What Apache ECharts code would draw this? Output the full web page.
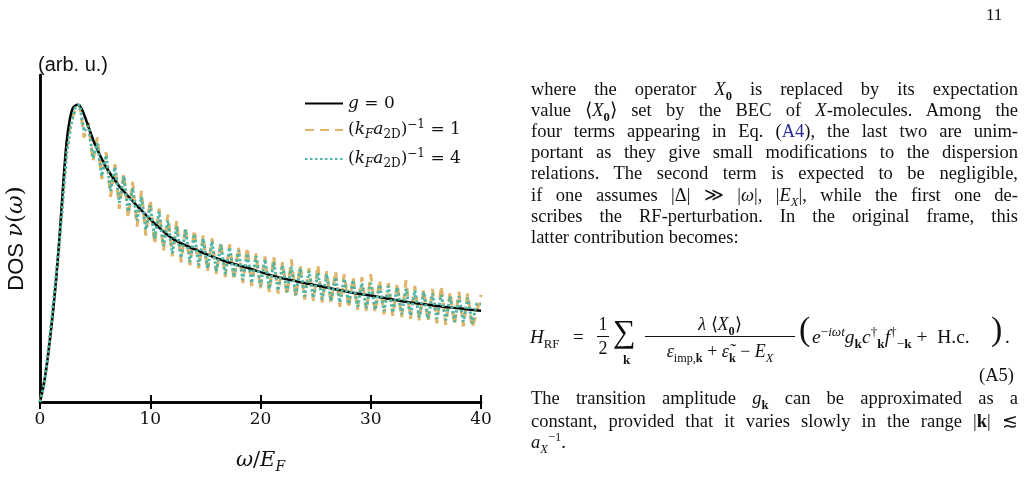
<!DOCTYPE html>
<html>
<head>
<meta charset="utf-8">
<script src="https://cdn.jsdelivr.net/npm/echarts@6/dist/echarts.min.js"></script>
<style>
  body { margin: 0; background: #fff; }
  #main { position: absolute; left: 0; top: 0; width: 1027px; height: 497px; }
  #paper { position: absolute; left: 0; top: 0; width: 1027px; height: 497px;
           font-family: 'Liberation Serif', serif; font-size: 18.5px; color: #111; pointer-events: none; }
  .ln { position: absolute; left: 531px; width: 487px; line-height: 20px;
        text-align: justify; text-align-last: justify; }
  .ln.last { text-align-last: left; }
  .ab { position: absolute; line-height: 22px; white-space: nowrap; }
  sub, sup { font-size: 68%; line-height: 0; }
  .cite { color: #2a2a9a; }
</style>
</head>
<body>
<div id="main"></div>
<div id="paper">
  <div class="ab" style="left:986px;top:4px;font-size:17px">11</div>

  <div class="ln" style="top:79px">where the operator <i>X</i><sub><b>0</b></sub> is replaced by its expectation</div>
  <div class="ln" style="top:100px">value ⟨<i>X</i><sub><b>0</b></sub>⟩ set by the BEC of <i>X</i>-molecules. Among the</div>
  <div class="ln" style="top:121px">four terms appearing in Eq. (<span class="cite">A4</span>), the last two are unim-</div>
  <div class="ln" style="top:142px">portant as they give small modifications to the dispersion</div>
  <div class="ln" style="top:163px">relations. The second term is expected to be negligible,</div>
  <div class="ln" style="top:185px">if one assumes |Δ| ≫ |<i>ω</i>|, |<i>E</i><sub><i>X</i></sub>|, while the first one de-</div>
  <div class="ln" style="top:206px">scribes the RF-perturbation. In the original frame, this</div>
  <div class="ln last" style="top:227px">latter contribution becomes:</div>

  <div class="ab" style="left:530px;top:326px;font-size:19px"><i>H</i><sub>RF</sub></div>
  <div class="ab" style="left:573px;top:326px;font-size:19px">=</div>
  <div class="ab" style="left:597px;top:313px;font-size:18px;text-align:center;width:12px">1</div>
  <div class="ab" style="left:597px;top:336px;width:12px;height:1px;background:#111"></div>
  <div class="ab" style="left:597px;top:337px;font-size:18px;text-align:center;width:12px">2</div>
  <div class="ab" style="left:613px;top:320px;font-size:32px">∑</div>
  <div class="ab" style="left:623px;top:349px;font-size:13px"><b>k</b></div>
  <div class="ab" style="left:645px;top:313px;width:150px;text-align:center;font-size:18px"><i>λ</i> ⟨<i>X</i><sub><b>0</b></sub>⟩</div>
  <div class="ab" style="left:645px;top:336px;width:150px;height:1px;background:#111"></div>
  <div class="ab" style="left:645px;top:340px;width:150px;text-align:center;font-size:18px"><i>ε</i><sub>imp,<b>k</b></sub> + <i>ε̃</i><sub><b>k</b></sub> − <i>E</i><sub><i>X</i></sub></div>
  <div class="ab" style="left:799px;top:318px;font-size:34px;font-weight:lighter">(</div>
  <div class="ab" style="left:812px;top:326px;font-size:19.5px"><i>e</i><sup>−<i>iωt</i></sup><i>g</i><sub><b>k</b></sub><i>c</i><sup>†</sup><sub><b>k</b></sub><i>f</i><sup>†</sup><sub>−<b>k</b></sub> + &nbsp;H.c.</div>
  <div class="ab" style="left:991px;top:318px;font-size:34px;font-weight:lighter">)</div>
  <div class="ab" style="left:1005px;top:326px;font-size:19px">.</div>
  <div class="ab" style="left:979px;top:364px;font-size:18.5px">(A5)</div>

  <div class="ln" style="top:388px">The transition amplitude <i>g</i><sub><b>k</b></sub> can be approximated as a</div>
  <div class="ln" style="top:411px">constant, provided that it varies slowly in the range |<b>k</b>| ≲</div>
  <div class="ln last" style="top:432px"><i>a</i><sub><i>X</i></sub><sup>−1</sup>.</div>
</div>
<script>
  // omega / E_F grid and DOS curves (arb. u.)
  var omegaClean = [0, 0.3, 0.6, 0.9, 1.2, 1.5, 1.8, 2.1, 2.4, 2.7, 3.0, 3.4, 3.8, 4.5, 5, 6, 7, 8, 9, 10,
    11, 12, 13, 14, 15, 16, 17, 18, 19, 20, 22, 24, 26, 28, 30, 32, 34, 36, 38, 40];
  var dosClean = [0, 0.05, 0.12, 0.21, 0.31, 0.43, 0.57, 0.73, 0.87, 0.95, 0.99, 1.0, 0.985, 0.915, 0.865, 0.79, 0.735, 0.692, 0.652, 0.615,
    0.58, 0.55, 0.53, 0.514, 0.498, 0.484, 0.471, 0.46, 0.449, 0.437, 0.416, 0.40, 0.385, 0.37, 0.358, 0.345, 0.333, 0.323, 0.315, 0.307];

  var omega = [0, 0.4, 0.8, 1.2, 1.6, 2.0, 2.4, 2.8, 3.2, 3.6,
    4.0, 4.4, 4.8, 5.2, 5.6, 6.0, 6.4, 6.8, 7.2, 7.6,
    8.0, 8.4, 8.8, 9.2, 9.6, 10.0, 10.4, 10.8, 11.2, 11.6,
    12.0, 12.4, 12.8, 13.2, 13.6, 14.0, 14.4, 14.8, 15.2, 15.6,
    16.0, 16.4, 16.8, 17.2, 17.6, 18.0, 18.4, 18.8, 19.2, 19.6,
    20.0, 20.4, 20.8, 21.2, 21.6, 22.0, 22.4, 22.8, 23.2, 23.6,
    24.0, 24.4, 24.8, 25.2, 25.6, 26.0, 26.4, 26.8, 27.2, 27.6,
    28.0, 28.4, 28.8, 29.2, 29.6, 30.0, 30.4, 30.8, 31.2, 31.6,
    32.0, 32.4, 32.8, 33.2, 33.6, 34.0, 34.4, 34.8, 35.2, 35.6,
    36.0, 36.4, 36.8, 37.2, 37.6, 38.0, 38.4, 38.8, 39.2, 39.6, 40.0];
  // (k_F a_2D)^-1 = 1
  var dosWeak = [0, 0.07, 0.175, 0.32, 0.46, 0.66, 0.85, 0.95, 0.98, 1.0,
    0.89, 0.94, 0.81, 0.89, 0.75, 0.84, 0.69, 0.80, 0.65, 0.77,
    0.62, 0.74, 0.59, 0.71, 0.56, 0.68, 0.53, 0.65, 0.51, 0.63,
    0.49, 0.61, 0.47, 0.59, 0.46, 0.58, 0.45, 0.56, 0.44, 0.55,
    0.43, 0.54, 0.42, 0.53, 0.41, 0.52, 0.40, 0.52, 0.39, 0.50,
    0.38, 0.49, 0.37, 0.49, 0.365, 0.47, 0.36, 0.48, 0.35, 0.46,
    0.345, 0.45, 0.34, 0.46, 0.335, 0.44, 0.33, 0.44, 0.32, 0.43,
    0.315, 0.42, 0.31, 0.42, 0.305, 0.43, 0.30, 0.41, 0.295, 0.40,
    0.29, 0.40, 0.285, 0.41, 0.28, 0.39, 0.275, 0.38, 0.27, 0.38,
    0.265, 0.39, 0.26, 0.37, 0.26, 0.37, 0.255, 0.365, 0.25, 0.30, 0.36];
  // (k_F a_2D)^-1 = 4
  var dosStrong = [0, 0.06, 0.19, 0.33, 0.48, 0.64, 0.83, 0.93, 0.99, 1.0,
    0.91, 0.93, 0.82, 0.87, 0.76, 0.83, 0.71, 0.79, 0.67, 0.76,
    0.64, 0.72, 0.61, 0.69, 0.58, 0.66, 0.55, 0.64, 0.525, 0.61,
    0.50, 0.59, 0.485, 0.58, 0.47, 0.565, 0.46, 0.55, 0.45, 0.54,
    0.44, 0.53, 0.43, 0.52, 0.42, 0.51, 0.41, 0.50, 0.40, 0.49,
    0.39, 0.48, 0.38, 0.47, 0.375, 0.46, 0.37, 0.455, 0.36, 0.45,
    0.355, 0.44, 0.35, 0.435, 0.345, 0.43, 0.34, 0.42, 0.335, 0.415,
    0.33, 0.41, 0.32, 0.40, 0.315, 0.40, 0.31, 0.395, 0.305, 0.39,
    0.30, 0.385, 0.295, 0.38, 0.29, 0.375, 0.285, 0.37, 0.28, 0.365,
    0.28, 0.36, 0.275, 0.355, 0.27, 0.355, 0.27, 0.35, 0.265, 0.33, 0.33];

  var xTicks = [0, 10, 20, 30, 40];

  function pairs(xs, ys) {
    return xs.map(function (x, i) { return [x, ys[i]]; });
  }

  var serif = 'DejaVu Serif';
  var rich = {
    i: { fontFamily: serif, fontStyle: 'italic', fontSize: 17, color: '#111', lineHeight: 22 },
    r: { fontFamily: serif, fontSize: 17, color: '#111', lineHeight: 22 },
    s: { fontFamily: serif, fontStyle: 'italic', fontSize: 12, color: '#111', lineHeight: 12, verticalAlign: 'bottom' },
    sr: { fontFamily: serif, fontSize: 12, color: '#111', lineHeight: 12, verticalAlign: 'bottom' },
    p: { fontFamily: serif, fontSize: 12, color: '#111', lineHeight: 12, verticalAlign: 'top' }
  };
  var legendText = {
    g0: '{i|g}{r| = 0}',
    a1: '{r|(}{i|k}{s|F}{i|a}{sr|2D}{r|)}{p|−1}{r| = 1}',
    a4: '{r|(}{i|k}{s|F}{i|a}{sr|2D}{r|)}{p|−1}{r| = 4}'
  };

  var chart = echarts.init(document.getElementById('main'));
  var axisLine = { show: true, lineStyle: { color: '#000', width: 2.5 } };

  chart.setOption({
    animation: false,
    backgroundColor: '#fff',
    grid: { left: 40, right: 546, top: 75, bottom: 95 },
    legend: {
      data: ['g0', 'a1', 'a4'],
      orient: 'vertical',
      left: 299, top: 90,
      itemWidth: 38, itemHeight: 14, itemGap: 7,
      selectedMode: false,
      itemStyle: { opacity: 0 },
      formatter: function (name) { return legendText[name]; },
      textStyle: { rich: rich }
    },
    graphic: [
      { type: 'text', left: 38, top: 55,
        style: { text: '(arb. u.)', font: '20px "Liberation Sans"', fill: '#111' } }
    ],
    xAxis: [
      {
        type: 'value', min: 0, max: 40, interval: 10, position: 'bottom',
        axisLine: axisLine,
        axisTick: { show: true, inside: true, length: 7, lineStyle: { color: '#000', width: 2 } },
        splitLine: { show: false },
        axisLabel: { margin: 9, fontFamily: serif, fontSize: 17, color: '#111',
          formatter: function (v) { return xTicks.indexOf(v) >= 0 ? String(v) : ''; } },
        name: '{i|ω}{r|/}{i|E}{s|F}',
        nameLocation: 'middle', nameGap: 46,
        nameTextStyle: { rich: {
          i: { fontFamily: serif, fontStyle: 'italic', fontSize: 21, color: '#111', lineHeight: 26 },
          r: { fontFamily: serif, fontSize: 21, color: '#111', lineHeight: 26 },
          s: { fontFamily: serif, fontStyle: 'italic', fontSize: 14, color: '#111', lineHeight: 14, verticalAlign: 'bottom' }
        } }
      },
      {
        type: 'value', min: 0, max: 40, interval: 10, position: 'top',
        axisLine: axisLine,
        axisTick: { show: true, inside: true, length: 7, lineStyle: { color: '#000', width: 2 } },
        axisLabel: { show: false }, splitLine: { show: false }
      }
    ],
    yAxis: [
      {
        type: 'value', min: 0, max: 1.1, position: 'left',
        axisLine: axisLine, axisTick: { show: false }, axisLabel: { show: false }, splitLine: { show: false },
        name: '{s|DOS }{i|ν}{r|(}{i|ω}{r|)}',
        nameLocation: 'middle', nameRotate: 90, nameGap: 12,
        nameTextStyle: { rich: {
          s: { fontFamily: 'Liberation Sans', fontSize: 22, color: '#111' },
          i: { fontFamily: serif, fontStyle: 'italic', fontSize: 23, color: '#111' },
          r: { fontFamily: serif, fontSize: 23, color: '#111' }
        } }
      },
      {
        type: 'value', min: 0, max: 1.1, position: 'right',
        axisLine: axisLine, axisTick: { show: false }, axisLabel: { show: false }, splitLine: { show: false }
      }
    ],
    series: [
      {
        name: 'a1', type: 'line', data: pairs(omega, dosWeak),
        symbol: 'none', showSymbol: false, z: 2,
        lineStyle: { color: '#e0b468', width: 3, type: [9, 6] },
        itemStyle: { color: '#e0b468' }
      },
      {
        name: 'g0', type: 'line', data: pairs(omegaClean, dosClean), smooth: 0.3,
        symbol: 'none', showSymbol: false, z: 3,
        lineStyle: { color: '#000', width: 2.5 },
        itemStyle: { color: '#000' }
      },
      {
        name: 'a4', type: 'line', data: pairs(omega, dosStrong),
        symbol: 'none', showSymbol: false, z: 4,
        lineStyle: { color: '#4fb5a6', width: 3, type: [2.5, 2.5] },
        itemStyle: { color: '#4fb5a6' }
      }
    ]
  });
</script>
</body>
</html>
